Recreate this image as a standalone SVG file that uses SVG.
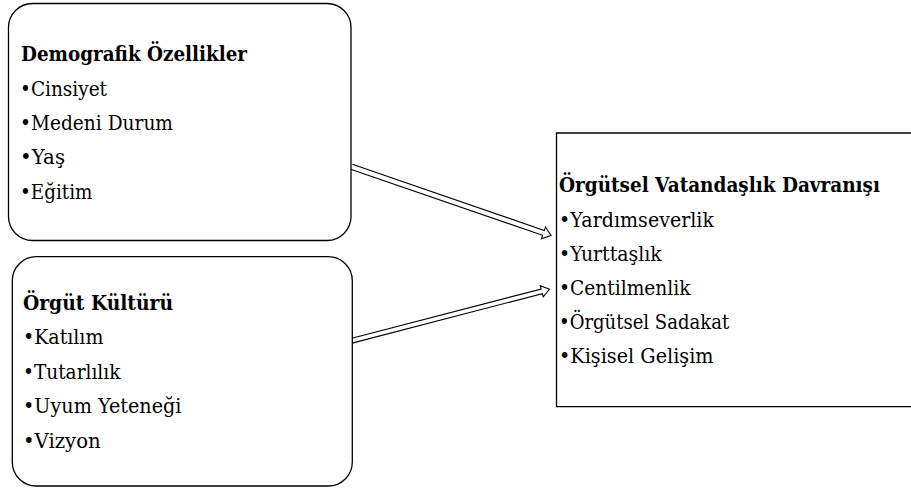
<svg xmlns="http://www.w3.org/2000/svg" width="911" height="488" viewBox="0 0 911 488">
<style>
.box{fill:#fff;stroke:#000;stroke-width:1.3}
.arr{fill:none;stroke:#000;stroke-width:1.1;stroke-linejoin:miter}
.lbl{font-family:'DejaVu Serif',serif;font-size:21px;fill:#000}
.t{font-weight:bold}
</style>
<rect width="911" height="488" fill="#fff"/>
<g id="connectors">
<g transform="translate(351.5,166.8) rotate(19)">
<path class="arr" d="M0,-2.6 L203,-2.6 L203,-6.3 L211,0 L203,6.3 L203,2.6 L0,2.6"/>
</g>
<g transform="translate(351.5,340.8) rotate(-14.58)">
<path class="arr" d="M0,-2.4 L196.6,-2.4 L196.6,-5.8 L204.6,0 L196.6,5.8 L196.6,2.4 L0,2.4"/>
</g>
</g>
<g id="demografik" class="lbl">
<rect class="box" x="8.5" y="3.5" width="342.5" height="237" rx="24" ry="24"/>
<text class="t" x="21" y="61" textLength="226" lengthAdjust="spacingAndGlyphs">Demografik Özellikler</text>
<text x="20" y="95.5" textLength="87" lengthAdjust="spacingAndGlyphs">•Cinsiyet</text>
<text x="20" y="130" textLength="153" lengthAdjust="spacingAndGlyphs">•Medeni Durum</text>
<text x="20" y="164" textLength="45" lengthAdjust="spacingAndGlyphs">•Yaş</text>
<text x="20" y="198.5" textLength="72.5" lengthAdjust="spacingAndGlyphs">•Eğitim</text>
</g>
<g id="orgut-kulturu" class="lbl">
<rect class="box" x="12.3" y="256.7" width="340" height="229.3" rx="24" ry="24"/>
<text class="t" x="23" y="310" textLength="150" lengthAdjust="spacingAndGlyphs">Örgüt Kültürü</text>
<text x="23" y="344" textLength="80.4" lengthAdjust="spacingAndGlyphs">•Katılım</text>
<text x="23" y="379" textLength="97.4" lengthAdjust="spacingAndGlyphs">•Tutarlılık</text>
<text x="23" y="413" textLength="158.4" lengthAdjust="spacingAndGlyphs">•Uyum Yeteneği</text>
<text x="23" y="447.5" textLength="77.7" lengthAdjust="spacingAndGlyphs">•Vizyon</text>
</g>
<g id="ovd" class="lbl">
<path class="box" d="M911,133 L556.5,133 L556.5,406.7 L911,406.7"/>
<text class="t" x="559" y="192" textLength="321" lengthAdjust="spacingAndGlyphs">Örgütsel Vatandaşlık Davranışı</text>
<text x="559" y="226.5" textLength="155" lengthAdjust="spacingAndGlyphs">•Yardımseverlik</text>
<text x="559" y="260.5" textLength="102.7" lengthAdjust="spacingAndGlyphs">•Yurttaşlık</text>
<text x="559" y="295" textLength="131.5" lengthAdjust="spacingAndGlyphs">•Centilmenlik</text>
<text x="559" y="329" textLength="170.2" lengthAdjust="spacingAndGlyphs">•Örgütsel Sadakat</text>
<text x="559" y="363" textLength="154.5" lengthAdjust="spacingAndGlyphs">•Kişisel Gelişim</text>
</g>
</svg>
